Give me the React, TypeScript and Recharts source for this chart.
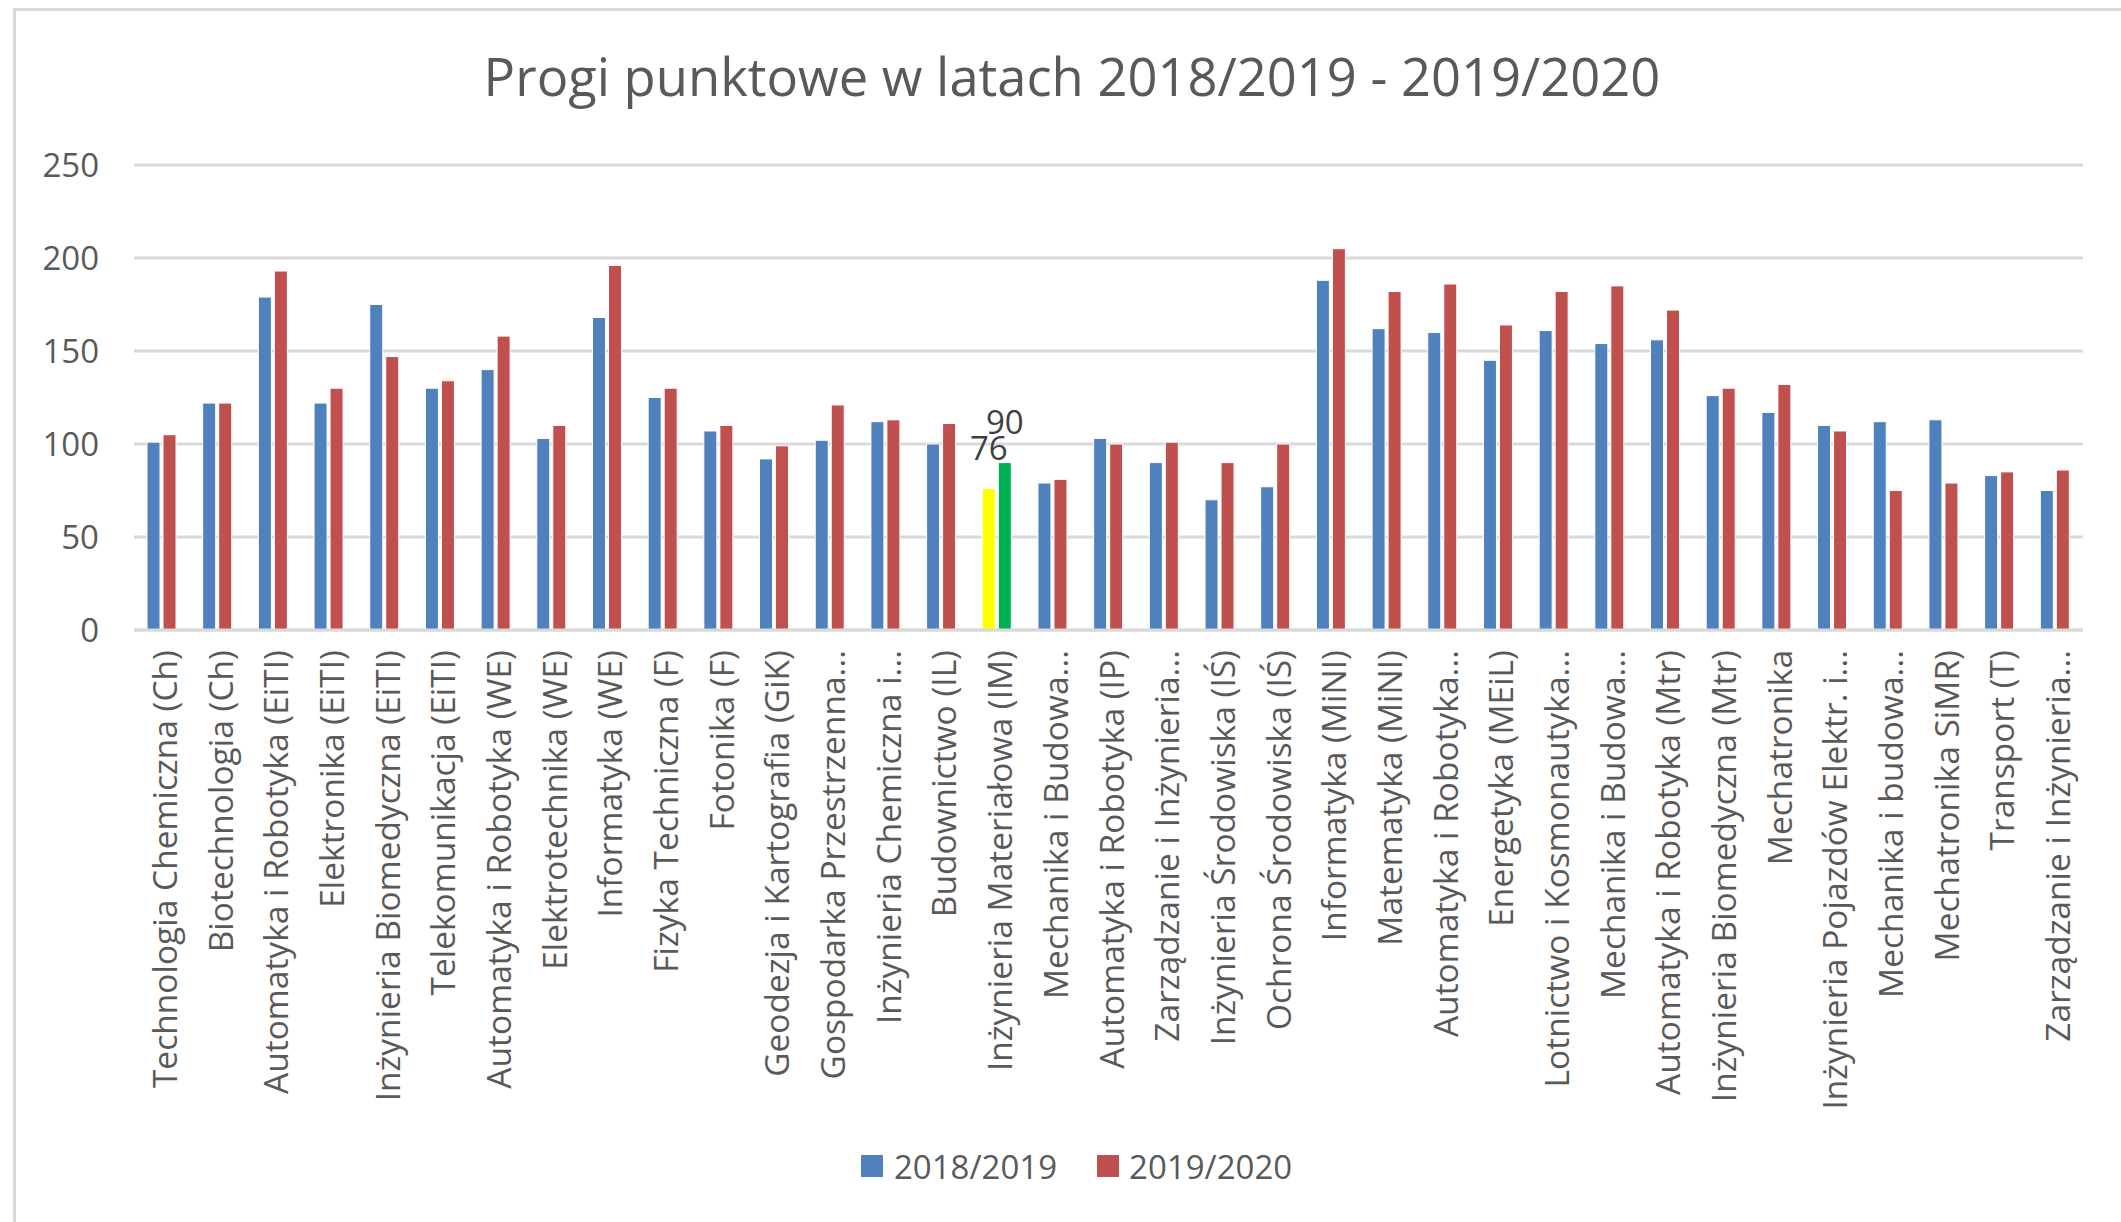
import React from 'react';
import { BarChart, Bar, XAxis, YAxis, CartesianGrid, Legend, Cell, LabelList } from 'recharts';

const categories = [
  'Technologia Chemiczna (Ch)',
  'Biotechnologia (Ch)',
  'Automatyka i Robotyka (EiTI)',
  'Elektronika (EiTI)',
  'Inżynieria Biomedyczna (EiTI)',
  'Telekomunikacja (EiTI)',
  'Automatyka i Robotyka (WE)',
  'Elektrotechnika (WE)',
  'Informatyka (WE)',
  'Fizyka Techniczna (F)',
  'Fotonika (F)',
  'Geodezja i Kartografia (GiK)',
  'Gospodarka Przestrzenna...',
  'Inżynieria Chemiczna i...',
  'Budownictwo (IL)',
  'Inżynieria Materiałowa (IM)',
  'Mechanika i Budowa...',
  'Automatyka i Robotyka (IP)',
  'Zarządzanie i Inżynieria...',
  'Inżynieria Środowiska (IŚ)',
  'Ochrona Środowiska (IŚ)',
  'Informatyka (MiNI)',
  'Matematyka (MiNI)',
  'Automatyka i Robotyka...',
  'Energetyka (MEiL)',
  'Lotnictwo i Kosmonautyka...',
  'Mechanika i Budowa... ',
  'Automatyka i Robotyka (Mtr)',
  'Inżynieria Biomedyczna (Mtr)',
  'Mechatronika',
  'Inżynieria Pojazdów Elektr. i...',
  'Mechanika i budowa...',
  'Mechatronika SiMR)',
  'Transport (T)',
  'Zarządzanie i Inżynieria... ',
];

const points2018 = [101, 122, 179, 122, 175, 130, 140, 103, 168, 125, 107, 92, 102, 112, 100, 76, 79, 103, 90, 70, 77, 188, 162, 160, 145, 161, 154, 156, 126, 117, 110, 112, 113, 83, 75];
const points2019 = [105, 122, 193, 130, 147, 134, 158, 110, 196, 130, 110, 99, 121, 113, 111, 90, 81, 100, 101, 90, 100, 205, 182, 186, 164, 182, 185, 172, 130, 132, 107, 75, 79, 85, 86];

const yTicks = [0, 50, 100, 150, 200, 250];
const seriesNames = ['2018/2019', '2019/2020'];
const highlighted = 'Inżynieria Materiałowa (IM)';

const BLUE = '#4F81BD';
const RED = '#C0504D';
const YELLOW = '#FFFF00';
const GREEN = '#00B050';
const TEXT = '#595959';
const FONT = "'Open Sans', sans-serif";

const data = categories.map((name, i) => ({
  name,
  a: points2018[i],
  b: points2019[i],
  labelA: name === highlighted ? points2018[i] : null,
  labelB: name === highlighted ? points2019[i] : null,
}));

const CategoryTick = (props: any) => {
  const { x, y, payload } = props;
  return (
    <text
      transform={`translate(${x},${y + 12}) rotate(-90)`}
      textAnchor="end"
      dy={15}
      fill={TEXT}
      fontSize={33.5}
      fontFamily={FONT}
    >
      {String(payload.value).trim()}
    </text>
  );
};

const renderValueLabel = (props: any) => {
  const { value } = props;
  if (value === null || value === undefined) return null;
  const box = props.viewBox && props.viewBox.width !== undefined ? props.viewBox : props;
  return (
    <text
      x={box.x + box.width / 2}
      y={box.y - 29}
      textAnchor="middle"
      fill="#404040"
      fontSize={33}
      fontFamily={FONT}
    >
      {value}
    </text>
  );
};

const renderLegend = () => (
  <div style={{ display: 'flex', alignItems: 'center', height: 44, paddingLeft: 861, fontFamily: FONT, fontSize: 33, color: TEXT }}>
    <span style={{ width: 22, height: 22, background: BLUE, display: 'inline-block' }} />
    <span style={{ marginLeft: 11 }}>{seriesNames[0]}</span>
    <span style={{ width: 22, height: 22, background: RED, display: 'inline-block', marginLeft: 40 }} />
    <span style={{ marginLeft: 10 }}>{seriesNames[1]}</span>
  </div>
);

export default function App() {
  return (
    <div style={{ position: 'absolute', left: 0, top: 0, width: 2121, height: 1222, overflow: 'hidden', background: '#fff' }}>
      <div style={{ position: 'absolute', left: 13, top: 8, width: 2300, height: 1400, border: '3px solid #d9d9d9' }} />
      <div
        style={{
          position: 'absolute',
          left: 72,
          top: 45,
          width: 2000,
          height: 62,
          lineHeight: '62px',
          textAlign: 'center',
          fontFamily: FONT,
          fontSize: 52.5,
          color: TEXT,
        }}
      >
        Progi punktowe w latach 2018/2019 - 2019/2020
      </div>
      <div style={{ position: 'absolute', left: 0, top: 0 }}>
        <BarChart
          width={2121}
          height={1222}
          data={data}
          margin={{ top: 165, right: 38, left: 0, bottom: 34 }}
          barSize={13}
          barGap={3}
        >
          <CartesianGrid vertical={false} stroke="#d9d9d9" strokeWidth={3} />
          <XAxis
            dataKey="name"
            interval={0}
            height={514}
            tickLine={false}
            axisLine={{ stroke: '#d9d9d9', strokeWidth: 3 }}
            tick={<CategoryTick />}
          />
          <YAxis
            width={134}
            domain={[0, 250]}
            ticks={yTicks}
            axisLine={false}
            tickLine={false}
            tickSize={0}
            tickMargin={35}
            tick={{ fill: TEXT, fontSize: 33, fontFamily: FONT }}
          />
          <Legend verticalAlign="bottom" content={renderLegend} wrapperStyle={{ left: 0, width: 2121 }} />
          <Bar dataKey="a" name={seriesNames[0]} fill={BLUE} stroke="#ffffff" strokeWidth={1} isAnimationActive={false}>
            {data.map((d) => (
              <Cell key={d.name} fill={d.name === highlighted ? YELLOW : BLUE} />
            ))}
            <LabelList dataKey="labelA" content={renderValueLabel} />
          </Bar>
          <Bar dataKey="b" name={seriesNames[1]} fill={RED} stroke="#ffffff" strokeWidth={1} isAnimationActive={false}>
            {data.map((d) => (
              <Cell key={d.name} fill={d.name === highlighted ? GREEN : RED} />
            ))}
            <LabelList dataKey="labelB" content={renderValueLabel} />
          </Bar>
        </BarChart>
      </div>
    </div>
  );
}
